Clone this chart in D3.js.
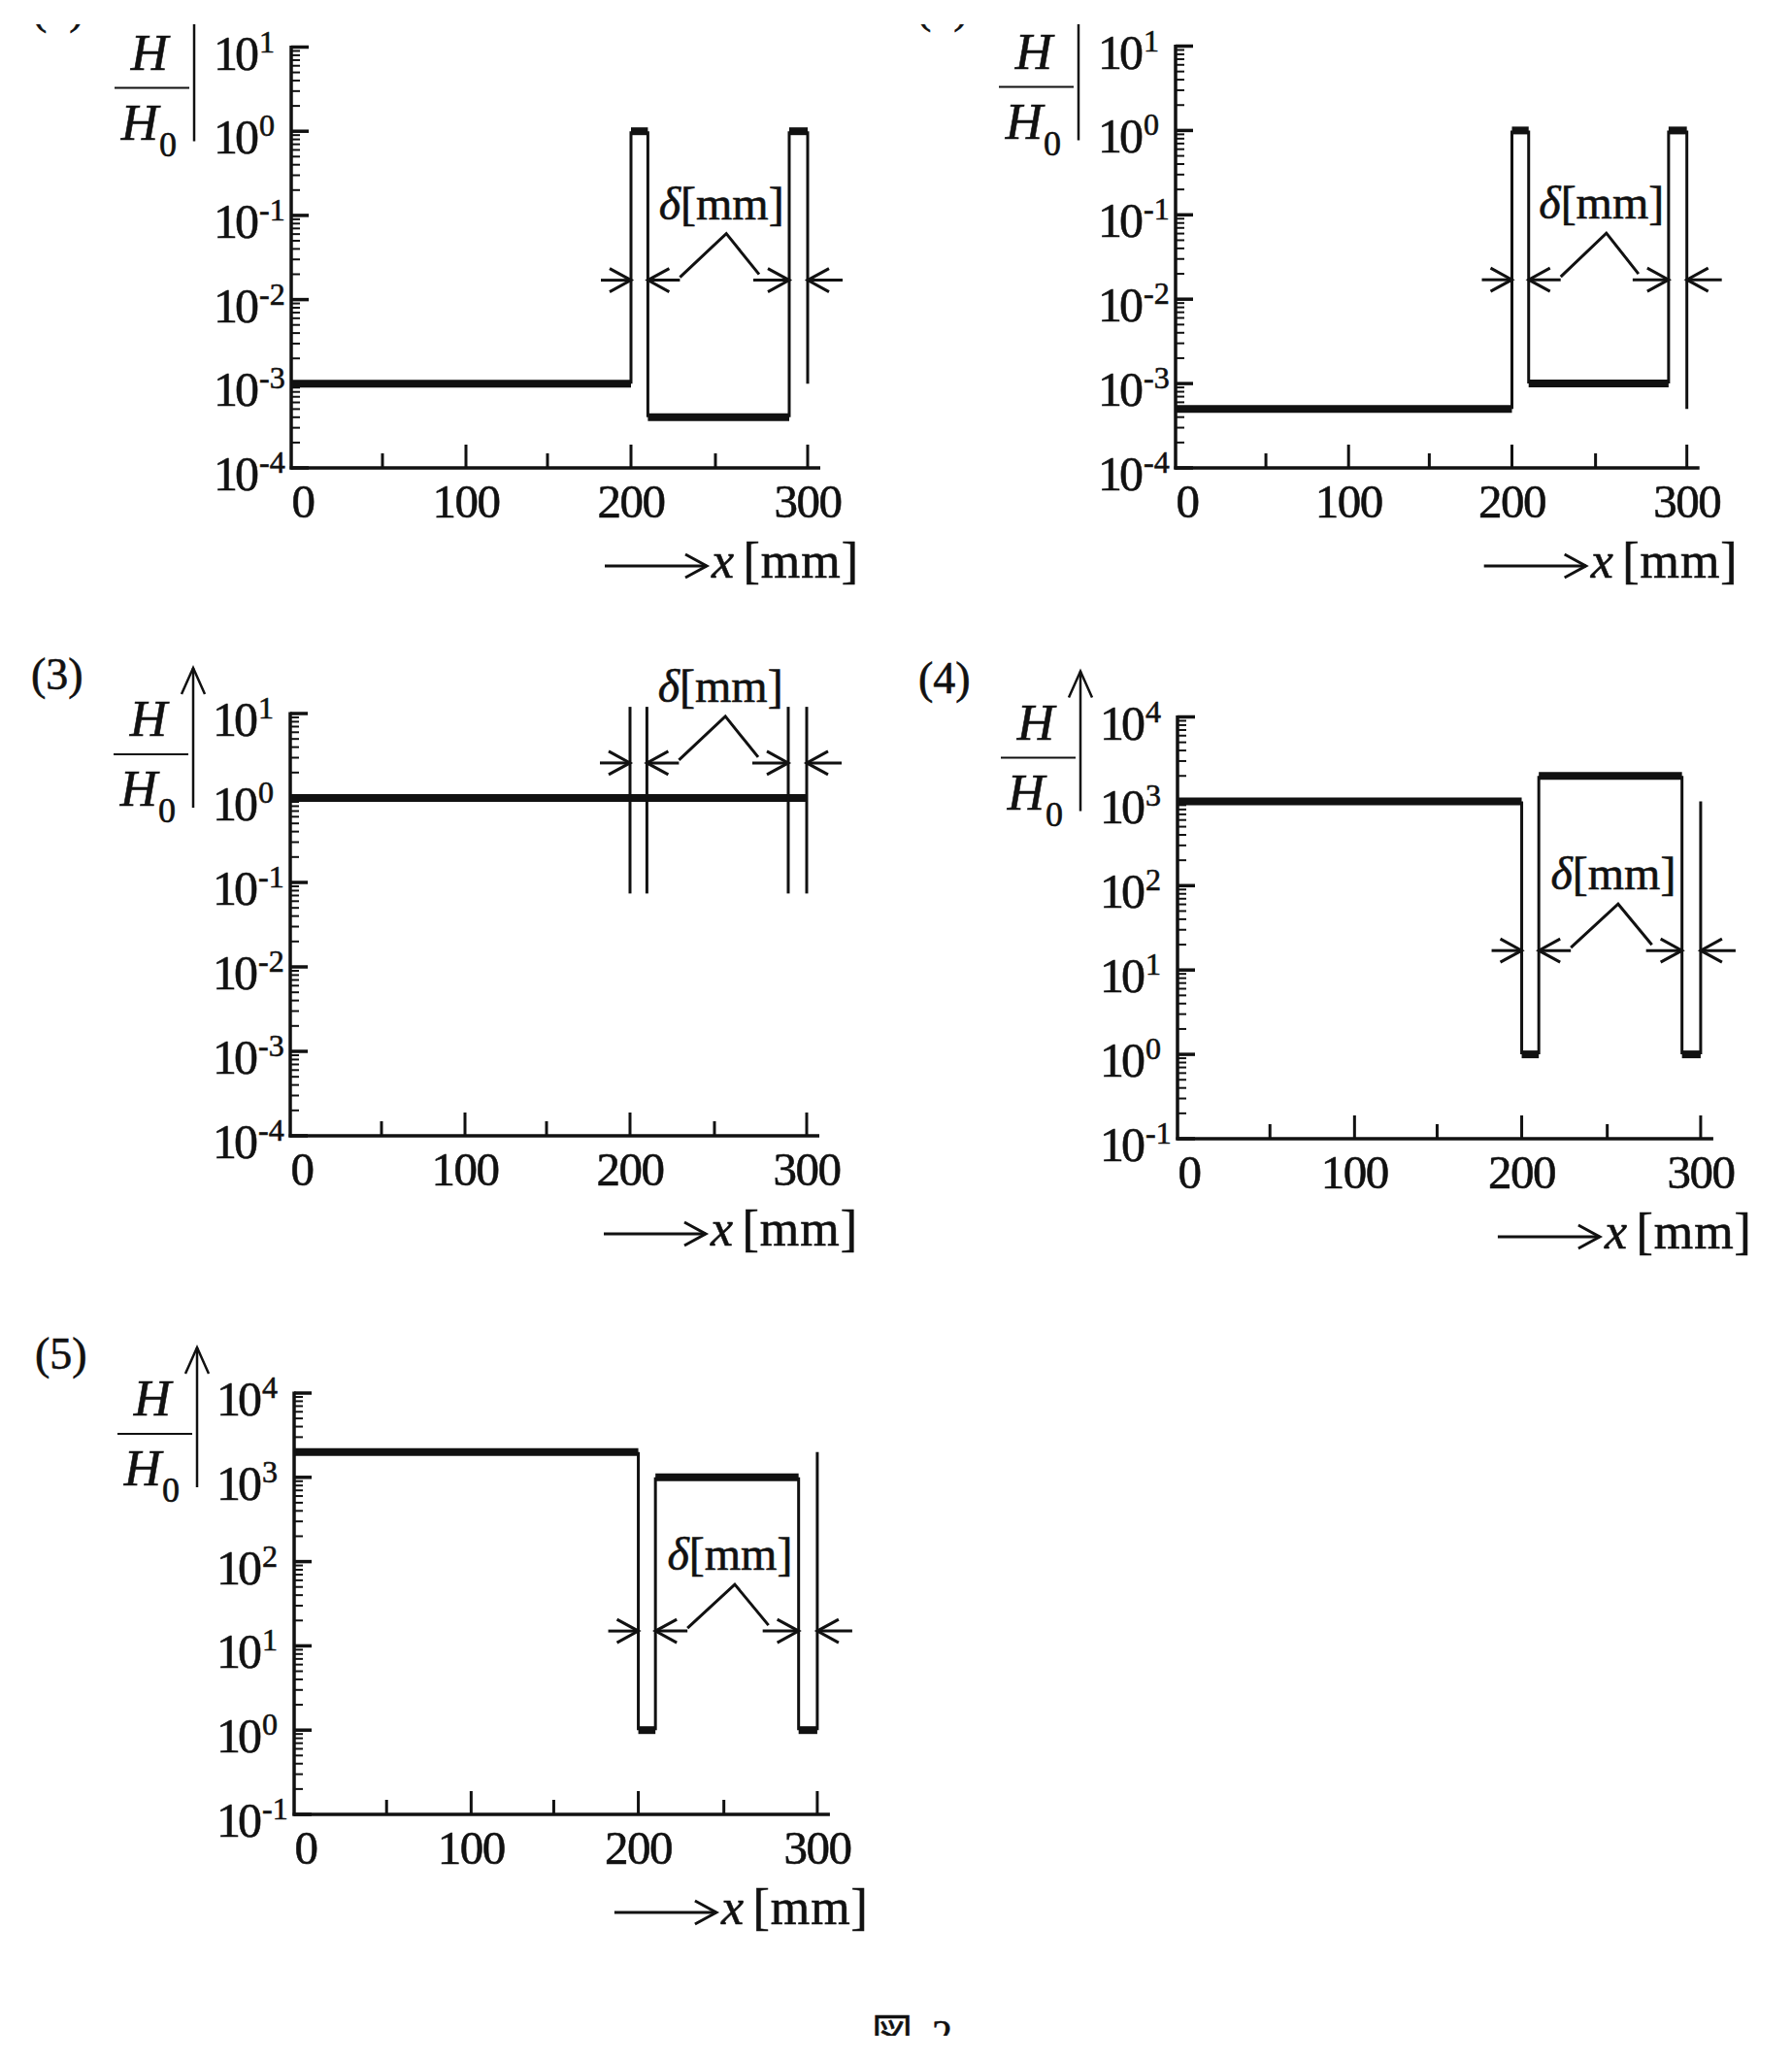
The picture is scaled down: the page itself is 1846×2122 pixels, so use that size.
<!DOCTYPE html>
<html>
<head>
<meta charset="utf-8">
<script src="https://cdn.jsdelivr.net/npm/d3@7"></script>
<style>
  html, body { margin: 0; padding: 0; background: #fff; }
  svg { display: block; }
  text { font-family: "Liberation Serif", "DejaVu Serif", serif; fill: #111; stroke: #111; stroke-width: 0.6px; }
</style>
</head>
<body>
<div id="chart"></div>
<script>
// ---- data -------------------------------------------------------------
// x [mm] where each region starts / ends: air, plate (delta), gap, plate (delta)
var regionStart = [0, 200, 210, 290];
var regionEnd = [200, 210, 290, 300];
var plateEdges = [200, 210, 290, 300];

var xBreaks = [0, 50, 100, 150, 200, 250, 300];
var xMajorTicks = [100, 200, 300];
var xMinorTicks = [50, 150, 250];
var xLabelValues = [0, 100, 200, 300];

var panelLabels = ["(1)", "(2)", "(3)", "(4)", "(5)"];
var lowDecade = [-4, -4, -4, -1, -1];
var highDecade = [1, 1, 1, 4, 4];

// H/H0 in each region
var ratio1 = [1e-3, 1, 4e-4, 1];
var ratio2 = [5e-4, 1, 1e-3, 1];
var ratio3 = [1, 1, 1, 1];
var ratio4 = [1e3, 1, 2e3, 1];
var ratio5 = [2e3, 1, 1e3, 1];
// where the right wall at x = 300 stops
var tailRatio = [1e-3, 5e-4, 1, 1e3, 2e3];

// H/H0 level of the delta dimension arrows
var deltaLevel = [0.017, 0.017, 2.6, 17, 15];
// panel (3) only shows the plates as bare lines over this H/H0 span
var plateLineSpan = [0.074, 12];

// ---- layout -----------------------------------------------------------
var W = 1846, H = 2122;
var ink = "#111";
// the printed x axis is not quite uniform, so map every 50 mm tick
var xBreakOffsets = [0, 94, 180, 264, 350, 437, 532];
var panelLayout = [
    {left: 300, top: 48.5, bottom: 482, stretch: 1.0},
    {left: 1211, top: 47.5, bottom: 482, stretch: 0.99},
    {left: 299, top: 735, bottom: 1170, stretch: 1.0},
    {left: 1213, top: 738.5, bottom: 1173, stretch: 1.013},
    {left: 303, top: 1435, bottom: 1869, stretch: 1.013}
];
var cropTop = 25, cropBottom = 2097;

var svg = d3.select("#chart").append("svg")
    .attr("width", W)
    .attr("height", H);
svg.append("rect").attr("width", W).attr("height", H).attr("fill", "#fff");

function line(g, x1, y1, x2, y2, w) {
    return g.append("line")
        .attr("x1", x1).attr("y1", y1)
        .attr("x2", x2).attr("y2", y2)
        .attr("stroke", ink)
        .attr("stroke-width", w);
}

function arrowH(g, tail, tip, yy) {
    var dir = tip > tail ? 1 : -1;
    line(g, tail, yy, tip, yy, 3);
    g.append("path")
        .attr("d", "M" + (tip - dir * 22) + "," + (yy - 12) + "L" + tip + "," + yy + "L" + (tip - dir * 22) + "," + (yy + 12))
        .attr("fill", "none")
        .attr("stroke", ink)
        .attr("stroke-width", 3);
}

function drawDelta(g, x, yy) {
    var w0 = x(plateEdges[0]), w1 = x(plateEdges[1]), w2 = x(plateEdges[2]), w3 = x(plateEdges[3]);
    arrowH(g, w0 - 31, w0, yy);
    arrowH(g, w1 + 33, w1, yy);
    arrowH(g, w2 - 37, w2, yy);
    arrowH(g, w3 + 36, w3, yy);
    var mid = (w1 + w2) / 2;
    g.append("path")
        .attr("d", "M" + (w1 + 33) + "," + (yy - 3) + "L" + (mid + 8) + "," + (yy - 48) + "L" + (w2 - 31) + "," + (yy - 6))
        .attr("fill", "none")
        .attr("stroke", ink)
        .attr("stroke-width", 3);
    var t = g.append("text")
        .attr("x", mid + 3)
        .attr("y", yy - 63)
        .attr("text-anchor", "middle")
        .attr("font-size", 48);
    t.append("tspan").attr("font-style", "italic").text("\u03b4");
    t.append("tspan").text("[mm]");
}

function drawPanel(idx, ratios) {
    var lay = panelLayout[idx];
    var g = svg.append("g");
    var x = d3.scaleLinear()
        .domain(xBreaks)
        .range(xBreakOffsets.map(function (d) { return lay.left + d * lay.stretch; }));
    var y = d3.scaleLog()
        .domain([Math.pow(10, lowDecade[idx]), Math.pow(10, highDecade[idx])])
        .range([lay.bottom, lay.top]);

    // y axis, log ticks on the inside
    line(g, lay.left, lay.top - 1.5, lay.left, lay.bottom + 1.5, 3.5);
    var decades = d3.range(lowDecade[idx], highDecade[idx] + 1);
    var minor = [];
    decades.slice(0, -1).forEach(function (e) {
        for (var k = 2; k < 10; k++) {
            minor.push(k * Math.pow(10, e));
        }
    });
    g.selectAll(".ymin").data(minor).enter().append("line")
        .attr("x1", lay.left).attr("x2", lay.left + 9)
        .attr("y1", function (d) { return y(d); })
        .attr("y2", function (d) { return y(d); })
        .attr("stroke", ink).attr("stroke-width", 2);
    g.selectAll(".ymaj").data(decades).enter().append("line")
        .attr("x1", lay.left).attr("x2", lay.left + 18)
        .attr("y1", function (e) { return y(Math.pow(10, e)); })
        .attr("y2", function (e) { return y(Math.pow(10, e)); })
        .attr("stroke", ink).attr("stroke-width", 3.5);
    decades.forEach(function (e) {
        var t = g.append("text")
            .attr("x", lay.left - 80)
            .attr("y", y(Math.pow(10, e)) + 23)
            .attr("font-size", 50)
            .attr("letter-spacing", -3)
            .text("10");
        t.append("tspan").attr("dx", 3).attr("dy", -18).attr("font-size", 32)
            .attr("letter-spacing", 0).text(String(e));
    });

    // x axis, ticks point up
    line(g, lay.left - 1.5, lay.bottom, x(300) + 13, lay.bottom, 3.5);
    xMajorTicks.forEach(function (d) { line(g, x(d), lay.bottom, x(d), lay.bottom - 24, 3); });
    xMinorTicks.forEach(function (d) { line(g, x(d), lay.bottom, x(d), lay.bottom - 15, 3); });
    g.selectAll(".xlab").data(xLabelValues).enter().append("text")
        .attr("x", function (d) { return x(d) + (d === 0 ? 12 : 0); })
        .attr("y", lay.bottom + 51)
        .attr("text-anchor", "middle")
        .attr("font-size", 49)
        .attr("letter-spacing", -1.5)
        .text(function (d) { return d; });

    // "--> x [mm]"
    var ax = x(300), ay = lay.bottom + 101;
    arrowH(g, ax - 209, ax - 104, ay);
    g.append("text").attr("x", ax - 99).attr("y", ay + 12)
        .attr("font-size", 52).attr("font-style", "italic").text("x");
    g.append("text").attr("x", ax + 53).attr("y", ay + 12)
        .attr("font-size", 52).attr("text-anchor", "end")
        .attr("letter-spacing", 1).text("[mm]");

    // H / H0 with upward arrow (the arrowhead of (1) and (2) was cut off with the page top)
    var lx = lay.left - 100, tip = lay.top - 47;
    line(g, lx, tip, lx, lay.top + 97, 2.5);
    if (tip > cropTop) {
        g.append("path")
            .attr("d", "M" + (lx - 12) + "," + (tip + 27) + "L" + lx + "," + tip + "L" + (lx + 12) + "," + (tip + 27))
            .attr("fill", "none").attr("stroke", ink).attr("stroke-width", 2.5);
    }
    line(g, lay.left - 182, lay.top + 42, lay.left - 105, lay.top + 42, 2);
    g.append("text").attr("x", lay.left - 146).attr("y", lay.top + 23)
        .attr("text-anchor", "middle").attr("font-size", 53).attr("font-style", "italic").text("H");
    g.append("text").attr("x", lay.left - 156).attr("y", lay.top + 95)
        .attr("text-anchor", "middle").attr("font-size", 53).attr("font-style", "italic").text("H");
    g.append("text").attr("x", lay.left - 136).attr("y", lay.top + 112)
        .attr("font-size", 36).text("0");
    g.append("text").attr("x", lay.left - 267).attr("y", lay.top - 25)
        .attr("font-size", 46).text(panelLabels[idx]);

    // H/H0 steps: thick levels, thin walls
    var segs = regionStart.map(function (s, i) { return {x0: s, x1: regionEnd[i], v: ratios[i]}; });
    g.selectAll(".level").data(segs).enter().append("line")
        .attr("x1", function (d) { return x(d.x0); })
        .attr("x2", function (d) { return x(d.x1); })
        .attr("y1", function (d) { return y(d.v); })
        .attr("y2", function (d) { return y(d.v); })
        .attr("stroke", ink).attr("stroke-width", 8);
    var walls = regionEnd.map(function (b, i) {
        return {x: b, from: ratios[i], to: i < ratios.length - 1 ? ratios[i + 1] : tailRatio[idx]};
    }).filter(function (w) { return w.from !== w.to; });
    g.selectAll(".wall").data(walls).enter().append("line")
        .attr("x1", function (d) { return x(d.x); })
        .attr("x2", function (d) { return x(d.x); })
        .attr("y1", function (d) { return y(d.from); })
        .attr("y2", function (d) { return y(d.to); })
        .attr("stroke", ink).attr("stroke-width", 3);

    if (idx === 2) {
        plateEdges.forEach(function (e) {
            line(g, x(e), y(plateLineSpan[1]), x(e), y(plateLineSpan[0]), 3);
        });
    }

    drawDelta(g, x, y(deltaLevel[idx]));
}

drawPanel(0, ratio1);
drawPanel(1, ratio2);
drawPanel(2, ratio3);
drawPanel(3, ratio4);
drawPanel(4, ratio5);

// figure caption
svg.append("text").attr("x", 898).attr("y", 2110)
    .attr("font-size", 42)
    .style("font-family", "'Noto Sans CJK JP', sans-serif")
    .text("\u56f3");
svg.append("text").attr("x", 960).attr("y", 2110)
    .attr("font-size", 42).text("2");

// the scanned page is cut off at the top and bottom
svg.append("rect").attr("x", 0).attr("y", 0).attr("width", W).attr("height", cropTop).attr("fill", "#fff");
svg.append("rect").attr("x", 0).attr("y", cropBottom).attr("width", W).attr("height", H - cropBottom).attr("fill", "#fff");
</script>
</body>
</html>
